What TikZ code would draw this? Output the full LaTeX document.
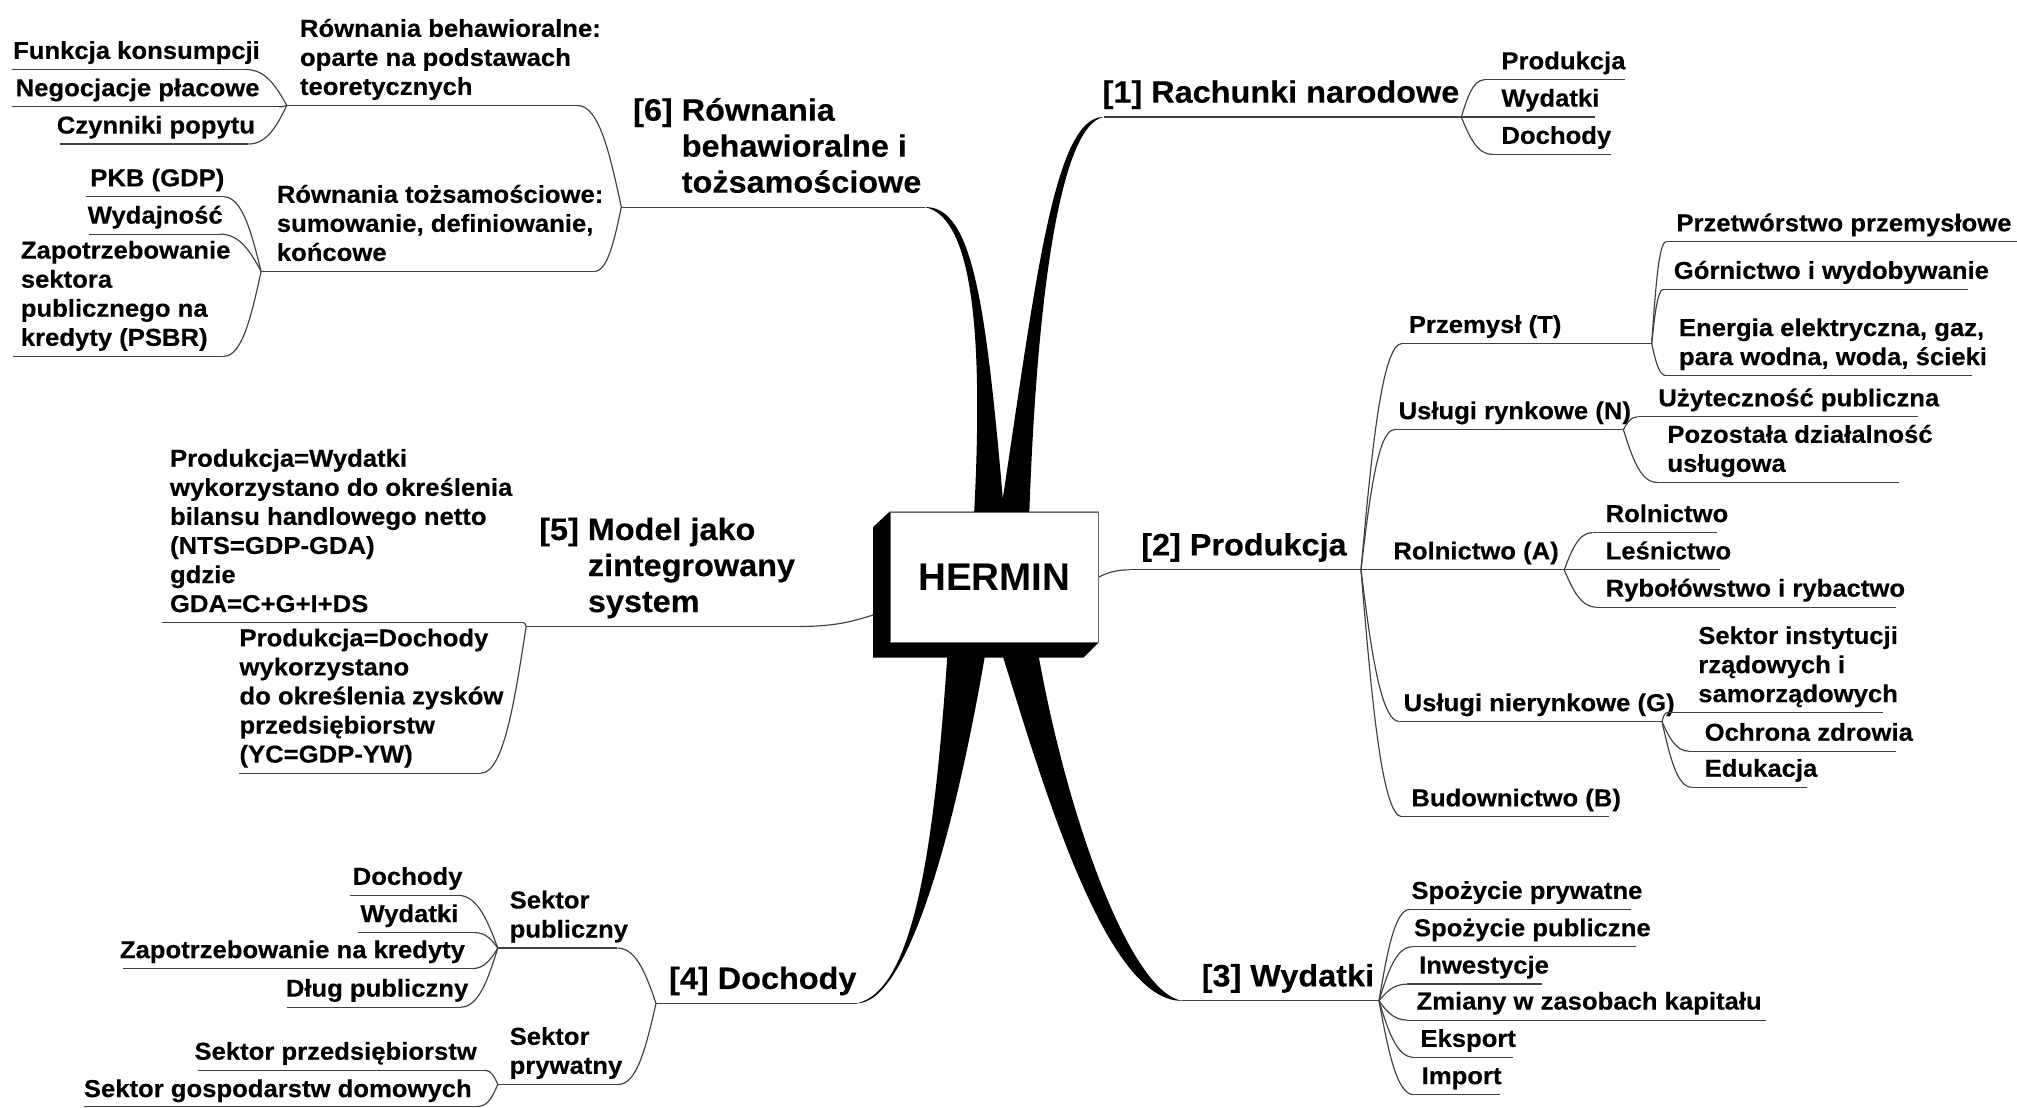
\documentclass[tikz,border=0pt]{standalone}
\usepackage{fontspec}
\newfontfamily\mmfont[FakeStretch=1.05,FakeBold=0.3]{Liberation Sans}
\newfontfamily\hmfont{Liberation Sans}
\usetikzlibrary{calc,backgrounds}
\tikzset{
  uln/.style={draw=black!75, line width=0.9pt},
  conn/.style={draw=black!75, line width=0.9pt},
  leaf/.style={font=\mmfont\bfseries\fontsize{19}{22.6}\selectfont, anchor=south west, inner sep=0pt, align=left, yshift=1.2pt, execute at end node=\strut},
  head/.style={font=\mmfont\bfseries\fontsize{24}{28}\selectfont, anchor=south west, inner sep=0pt, align=left, yshift=2.6pt, execute at end node=\strut},
  core/.style={draw=black!60, line width=0.6pt, fill=white, minimum width=162pt, minimum height=101pt, inner sep=0pt, font=\hmfont\bfseries\fontsize{30}{36}\selectfont},
  branch/.style={fill=black}
}
\newcommand\mkul[4]{\coordinate (#1L) at (#2,#4); \coordinate (#1R) at (#3,#4); \draw[uln] (#1L) -- (#1R);}
\newcommand\lk[2]{\draw[conn] let \p1=(#1), \p2=(#2) in (\p1) .. controls ({\x1+0.25*(\x2-\x1)},{\y1+0.5*(\y2-\y1)}) and ({\x1+0.5*(\x2-\x1)},{\y2}) .. (\p2);}
\begin{document}
\begin{tikzpicture}[x=1pt,y=-1pt]
\useasboundingbox (0,0) rectangle (1568,861);
% central box
\node[core] (hermin) at (773,448.5) {HERMIN};
\coordinate (h5) at (679,478);
% ---------- right side ----------
\node[head] (r1) at (857,91) {[1] Rachunki narodowe}; \mkul{r1}{858}{1136}{91}
\node[leaf] (r1a) at (1167,62) {Produkcja}; \mkul{r1a}{1154}{1263}{62}
\node[leaf] (r1b) at (1167,91) {Wydatki}; \mkul{r1b}{1150}{1240}{91}
\node[leaf] (r1c) at (1167,120) {Dochody}; \mkul{r1c}{1160}{1252}{120}

\node[head] (r2) at (887,443) {[2] Produkcja}; \mkul{r2}{878}{1058}{443}
\node[leaf] (r2a) at (1095,267) {Przemysł (T)}; \mkul{r2a}{1090}{1284}{267}
\node[leaf] (r2a1) at (1303,188) {Przetwórstwo przemysłowe}; \mkul{r2a1}{1295}{1568}{188}
\node[leaf] (r2a2) at (1301,225) {Górnictwo i wydobywanie}; \mkul{r2a2}{1293}{1530}{225}
\node[leaf] (r2a3) at (1305,292) {Energia elektryczna, gaz,\\para wodna, woda, ścieki}; \mkul{r2a3}{1295}{1533}{292}
\node[leaf] (r2b) at (1087,334) {Usługi rynkowe (N)}; \mkul{r2b}{1084}{1262}{334}
\node[leaf] (r2b1) at (1289,324) {Użyteczność publiczna}; \mkul{r2b1}{1273}{1491}{324}
\node[leaf] (r2b2) at (1296,375) {Pozostała działalność\\usługowa}; \mkul{r2b2}{1288}{1476}{375}
\node[leaf] (r2c) at (1083,443) {Rolnictwo (A)}; \mkul{r2c}{1060}{1216}{443}
\node[leaf] (r2c1) at (1248,414) {Rolnictwo}; \mkul{r2c1}{1238}{1335}{414}
\node[leaf] (r2c2) at (1248,443) {Leśnictwo}; \mkul{r2c2}{1224}{1337}{443}
\node[leaf] (r2c3) at (1248,472) {Rybołówstwo i rybactwo}; \mkul{r2c3}{1241}{1474}{472}
\node[leaf] (r2d) at (1091,561) {Usługi nierynkowe (G)}; \mkul{r2d}{1088}{1292}{561}
\node[leaf] (r2d1) at (1320,554) {Sektor instytucji\\rządowych i\\samorządowych}; \mkul{r2d1}{1296}{1464}{554}
\node[leaf] (r2d2) at (1325,584) {Ochrona zdrowia}; \mkul{r2d2}{1313}{1474}{584}
\node[leaf] (r2d3) at (1325,612) {Edukacja}; \mkul{r2d3}{1315}{1405}{612}
\node[leaf] (r2e) at (1097,635) {Budownictwo (B)}; \mkul{r2e}{1090}{1251}{635}

\node[head] (r3) at (934,778) {[3] Wydatki}; \mkul{r3}{919}{1072}{778}
\node[leaf] (r3a) at (1097,707) {Spożycie prywatne}; \mkul{r3a}{1096}{1268}{707}
\node[leaf] (r3b) at (1099,736) {Spożycie publiczne}; \mkul{r3b}{1098}{1272}{736}
\node[leaf] (r3c) at (1103,765) {Inwestycje}; \mkul{r3c}{1094}{1199}{765}
\node[leaf] (r3d) at (1101,793) {Zmiany w zasobach kapitału}; \mkul{r3d}{1094}{1373}{793}
\node[leaf] (r3e) at (1104,822) {Eksport}; \mkul{r3e}{1099}{1176}{822}
\node[leaf] (r3f) at (1105,851) {Import}; \mkul{r3f}{1099}{1166}{851}

% ---------- left side ----------
\node[head] (l6) at (492,161) {[6] Równania\\\hphantom{[6]~}behawioralne i\\\hphantom{[6]~}tożsamościowe}; \mkul{l6}{483}{719}{161}
\node[leaf] (l6a) at (233,82) {Równania behawioralne:\\oparte na podstawach\\teoretycznych}; \mkul{l6a}{223}{449}{82}
\node[leaf] (l6a1) at (10,54) {Funkcja konsumpcji}; \mkul{l6a1}{9}{191}{54}
\node[leaf] (l6a2) at (12,83) {Negocjacje płacowe}; \mkul{l6a2}{9}{217}{83}
\node[leaf] (l6a3) at (44,112) {Czynniki popytu}; \mkul{l6a3}{47}{193}{112}
\node[leaf] (l6b) at (215,211) {Równania tożsamościowe:\\sumowanie, definiowanie,\\końcowe}; \mkul{l6b}{203}{462}{211}
\node[leaf] (l6b1) at (70,153) {PKB (GDP)}; \mkul{l6b1}{67}{174}{153}
\node[leaf] (l6b2) at (68,182) {Wydajność}; \mkul{l6b2}{69}{171}{182}
\node[leaf] (l6b3) at (16,277) {Zapotrzebowanie\\sektora\\publicznego na\\kredyty (PSBR)}; \mkul{l6b3}{10}{174}{277}

\node[head] (l5) at (419,487) {[5] Model jako\\\hphantom{[5]~}zintegrowany\\\hphantom{[5]~}system}; \mkul{l5}{409}{622}{487}
\node[leaf] (l5a) at (132,484) {Produkcja=Wydatki\\wykorzystano do określenia\\bilansu handlowego netto\\(NTS=GDP-GDA)\\gdzie\\GDA=C+G+I+DS}; \mkul{l5a}{126}{407}{484}
\node[leaf] (l5b) at (186,601) {Produkcja=Dochody\\wykorzystano\\do określenia zysków\\przedsiębiorstw\\(YC=GDP-YW)}; \mkul{l5b}{186}{374}{601}

\node[head] (l4) at (520,780) {[4] Dochody}; \mkul{l4}{510}{666}{780}
\node[leaf] (l4a) at (396,737) {Sektor\\publiczny}; \mkul{l4a}{387}{480}{737}
\node[leaf] (l4a1) at (274,696) {Dochody}; \mkul{l4a1}{272}{356}{696}
\node[leaf] (l4a2) at (280,725) {Wydatki}; \mkul{l4a2}{278}{369}{725}
\node[leaf] (l4a3) at (93,753) {Zapotrzebowanie na kredyty}; \mkul{l4a3}{96}{367}{753}
\node[leaf] (l4a4) at (222,783) {Dług publiczny}; \mkul{l4a4}{223}{358}{783}
\node[leaf] (l4b) at (396,843) {Sektor\\prywatny}; \mkul{l4b}{387}{481}{843}
\node[leaf] (l4b1) at (151,832) {Sektor przedsiębiorstw}; \mkul{l4b1}{154}{377}{832}
\node[leaf] (l4b2) at (65,861) {Sektor gospodarstw domowych}; \mkul{l4b2}{65}{372}{860}

% ---------- connectors ----------
\lk{hermin.east}{r2L}
\lk{h5}{l5R}
\lk{r1R}{r1aL} \lk{r1R}{r1bL} \lk{r1R}{r1cL}
\lk{r2R}{r2aL} \lk{r2R}{r2bL} \lk{r2R}{r2cL} \lk{r2R}{r2dL} \lk{r2R}{r2eL}
\lk{r2aR}{r2a1L} \lk{r2aR}{r2a2L} \lk{r2aR}{r2a3L}
\lk{r2bR}{r2b1L} \lk{r2bR}{r2b2L}
\lk{r2cR}{r2c1L} \lk{r2cR}{r2c2L} \lk{r2cR}{r2c3L}
\lk{r2dR}{r2d1L} \lk{r2dR}{r2d2L} \lk{r2dR}{r2d3L}
\lk{r3R}{r3aL} \lk{r3R}{r3bL} \lk{r3R}{r3cL} \lk{r3R}{r3dL} \lk{r3R}{r3eL} \lk{r3R}{r3fL}
\lk{l6L}{l6aR} \lk{l6L}{l6bR}
\lk{l6aL}{l6a1R} \lk{l6aL}{l6a2R} \lk{l6aL}{l6a3R}
\lk{l6bL}{l6b1R} \lk{l6bL}{l6b2R} \lk{l6bL}{l6b3R}
\lk{l5L}{l5aR} \lk{l5L}{l5bR}
\lk{l4L}{l4aR} \lk{l4L}{l4bR}
\lk{l4aL}{l4a1R} \lk{l4aL}{l4a2R} \lk{l4aL}{l4a3R} \lk{l4aL}{l4a4R}
\lk{l4bL}{l4b1R} \lk{l4bL}{l4b2R}

% ---------- thick branches and box shadow ----------
\begin{scope}[on background layer]
\fill[white] (0,0) rectangle (1568,861);
\fill[branch] (757,404) .. controls (766,240) and (752,168) .. (l6R) .. controls (757,160) and (767,240) .. (781,404) -- cycle;
\fill[branch] (777,404) .. controls (804,230) and (818,90) .. (r1L) .. controls (825,97) and (806,225) .. (800,404) -- cycle;
\fill[branch] (737,502) .. controls (727,650) and (712,770) .. (l4R) .. controls (705,780) and (742,650) .. (767,502) -- cycle;
\fill[branch] (777,502) .. controls (808,600) and (858,779) .. (r3L) .. controls (880,772) and (830,640) .. (806,502) -- cycle;
\fill[black] (hermin.north west) -- ++(-13,12) |- ($(hermin.south east)+(-12,12)$) -- (hermin.south east) -- (hermin.north east) -- cycle;
\end{scope}
\end{tikzpicture}
\end{document}
